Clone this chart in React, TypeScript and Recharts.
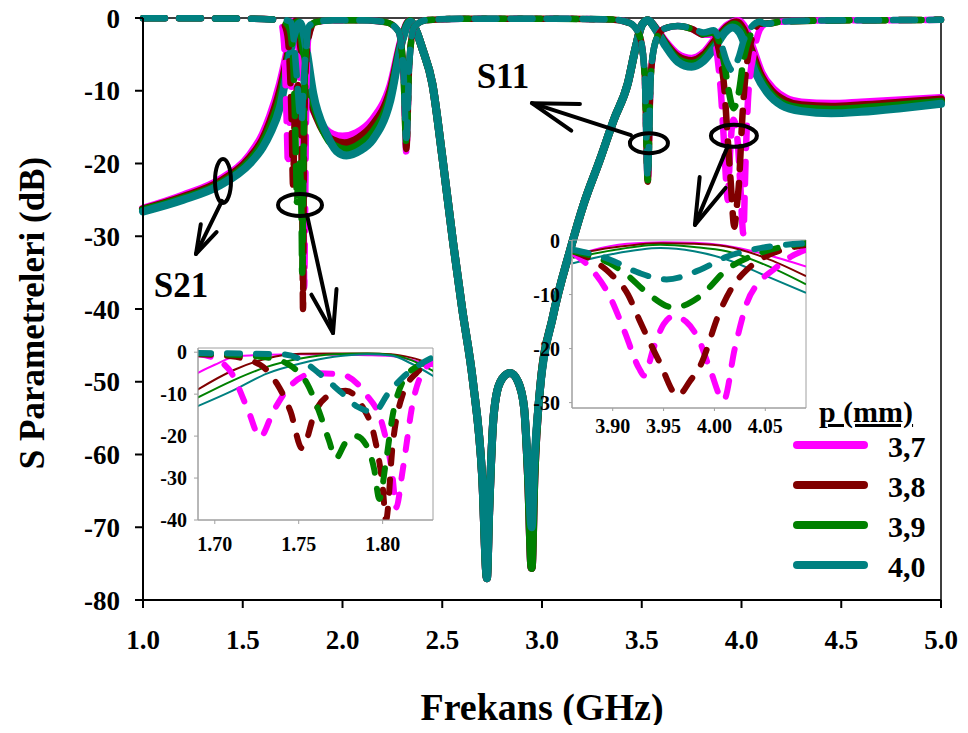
import React from 'react';
import { LineChart, Line, XAxis, YAxis, ReferenceArea, ReferenceDot } from 'recharts';

type Pt = [number, number];

const FONT = '"Liberation Serif", "Times New Roman", serif';
const COLORS = ['#FF00FF', '#800000', '#008000', '#008080'];
const P_LABELS = ['3,7', '3,8', '3,9', '4,0'];
const X_TICKS = [1.0, 1.5, 2.0, 2.5, 3.0, 3.5, 4.0, 4.5, 5.0];
const Y_TICKS = [-80, -70, -60, -50, -40, -30, -20, -10, 0];
const IN1_X_TICKS = [1.7, 1.75, 1.8];
const IN1_Y_TICKS = [-40, -30, -20, -10, 0];
const IN2_X_TICKS = [3.9, 3.95, 4.0, 4.05];
const IN2_Y_TICKS = [-30, -20, -10, 0];

// ---------- S21 (solid) main ----------
const s21L_37: Pt[] = [[1.0,-26.2],[1.2,-24.4],[1.386,-22.2],[1.536,-18.8],[1.6,-16],[1.637,-13.5],[1.687,-9],[1.72,-5],[1.74,-2.2],[1.752,-0.5],[1.765,-1.2],[1.785,-4.5],[1.82,-9.8],[1.88,-14],[1.95,-16],[2.0,-16.3],[2.07,-15.8],[2.15,-14],[2.24,-9.3],[2.3,-2.5],[2.335,-0.4]];
const s21L_38: Pt[] = [[1.0,-26.3],[1.2,-24.6],[1.386,-22.5],[1.536,-19.2],[1.6,-16.7],[1.637,-14.3],[1.687,-10],[1.72,-5.9],[1.745,-2.3],[1.765,-0.5],[1.778,-1.2],[1.795,-4.5],[1.83,-10],[1.89,-14.8],[1.95,-16.8],[2.01,-17.2],[2.08,-16.5],[2.15,-14.8],[2.24,-10],[2.3,-2.7],[2.337,-0.4]];
const s21L_39: Pt[] = [[1.0,-26.4],[1.2,-24.8],[1.386,-22.8],[1.536,-19.6],[1.6,-17.2],[1.637,-15],[1.687,-11],[1.72,-6.7],[1.75,-2.5],[1.775,-0.6],[1.788,-1.3],[1.805,-4.5],[1.84,-10],[1.9,-15.2],[1.96,-17.6],[2.02,-18.1],[2.09,-17.3],[2.15,-15.8],[2.24,-10.7],[2.3,-2.9],[2.338,-0.4]];
const s21L_40: Pt[] = [[1.0,-26.6],[1.2,-25],[1.386,-23],[1.536,-20],[1.6,-17.8],[1.637,-15.9],[1.687,-12.2],[1.72,-7.6],[1.747,-3.5],[1.787,-0.7],[1.8,-1.5],[1.82,-4.4],[1.853,-10.3],[1.92,-15.9],[1.97,-18.3],[2.02,-18.9],[2.09,-18.2],[2.15,-16.8],[2.24,-11.3],[2.3,-3],[2.34,-0.5]];

const s21Stop: Pt[] = [[2.37,-1.8],[2.4,-4.2],[2.45,-9],[2.5,-19],[2.555,-31],[2.6,-40],[2.654,-50],[2.7,-63],[2.724,-77],[2.735,-68],[2.754,-56],[2.77,-52],[2.8,-49.6],[2.84,-48.8],[2.88,-50],[2.91,-53.5],[2.93,-63],[2.948,-75.6],[2.962,-63],[2.99,-51],[3.055,-41],[3.14,-32],[3.21,-25.5],[3.29,-19.5],[3.36,-14],[3.43,-9],[3.47,-4],[3.5,-1]];
const s21StopTeal: Pt[] = [[2.37,-1.8],[2.4,-4.2],[2.45,-9],[2.5,-19],[2.555,-31],[2.6,-40],[2.654,-50],[2.7,-63],[2.724,-77],[2.735,-68],[2.754,-56],[2.77,-52],[2.8,-49.6],[2.84,-48.8],[2.88,-50],[2.91,-53.5],[2.93,-62],[2.948,-70],[2.962,-61],[2.99,-51],[3.055,-41],[3.14,-32],[3.21,-25.5],[3.29,-19.5],[3.36,-14],[3.43,-9],[3.47,-4],[3.5,-1]];

const s21R_37: Pt[] = [[3.53,-0.3],[3.57,-1.4],[3.62,-3.3],[3.68,-5],[3.75,-5.6],[3.81,-4.8],[3.87,-2.8],[3.93,-1],[3.985,-0.4],[4.02,-1.5],[4.06,-4.5],[4.1,-7.5],[4.16,-9.8],[4.22,-11],[4.3,-11.6],[4.45,-11.8],[4.6,-11.6],[4.8,-11.3],[5.0,-11]];
const s21R_38: Pt[] = [[3.53,-0.3],[3.57,-1.5],[3.62,-3.5],[3.68,-5.3],[3.75,-5.9],[3.81,-5.1],[3.87,-3.1],[3.93,-1.2],[3.975,-0.6],[4.01,-1.6],[4.05,-4.5],[4.09,-7.5],[4.15,-10],[4.22,-11.4],[4.3,-12],[4.45,-12.2],[4.6,-12],[4.8,-11.6],[5.0,-11.2]];
const s21R_39: Pt[] = [[3.53,-0.3],[3.57,-1.5],[3.62,-3.7],[3.68,-5.7],[3.75,-6.3],[3.81,-5.5],[3.87,-3.5],[3.93,-1.5],[3.965,-0.9],[4.0,-1.8],[4.04,-4.5],[4.08,-7.5],[4.14,-10.2],[4.21,-11.8],[4.3,-12.4],[4.45,-12.6],[4.6,-12.4],[4.8,-12],[5.0,-11.5]];
const s21R_40: Pt[] = [[3.53,-0.3],[3.57,-1.6],[3.62,-3.9],[3.68,-6],[3.75,-6.7],[3.81,-5.9],[3.87,-3.9],[3.92,-1.9],[3.955,-1.3],[3.99,-2],[4.03,-4.6],[4.07,-7.5],[4.13,-10.3],[4.2,-12],[4.3,-12.8],[4.45,-13.1],[4.6,-12.9],[4.8,-12.4],[5.0,-11.8]];

// ---------- S11 (dashed) main ----------
const s11Pre: Pt[] = [[1.0,-0.05],[1.3,-0.05],[1.55,-0.1],[1.65,-0.2]];
// band 1 (also shown in inset 1)
const b1d_37: Pt[] = [[1.69,-0.5],[1.7,-1.5],[1.71,-5],[1.72,-14],[1.727,-20.2],[1.735,-14],[1.745,-8],[1.76,-5],[1.775,-5.3],[1.79,-10],[1.8,-17.5],[1.806,-30],[1.808,-37],[1.812,-28],[1.818,-12],[1.825,-4],[1.83,-2.5]];
const b1d_38: Pt[] = [[1.69,-0.5],[1.71,-1],[1.727,-3],[1.737,-7.5],[1.745,-14],[1.752,-22.9],[1.76,-14],[1.768,-10.3],[1.778,-9.2],[1.788,-13],[1.795,-20],[1.8,-32],[1.802,-40],[1.806,-22],[1.812,-10],[1.82,-5],[1.83,-2.7]];
const b1d_39: Pt[] = [[1.69,-0.3],[1.73,-1.2],[1.745,-3.2],[1.755,-7.5],[1.762,-14],[1.768,-21],[1.772,-25.3],[1.778,-21.5],[1.784,-20],[1.79,-22],[1.795,-28],[1.798,-35],[1.802,-26],[1.806,-15],[1.812,-7],[1.82,-3.5],[1.83,-2]];
const b1d_40: Pt[] = [[1.69,-0.2],[1.74,-0.5],[1.75,-1.5],[1.762,-5],[1.775,-9.5],[1.785,-13],[1.795,-14.2],[1.803,-10],[1.812,-6],[1.82,-3.5],[1.83,-1.2]];
// band 1 solid (inset 1)
const b1s_37: Pt[] = [[1.689,-5.1],[1.7,-3],[1.711,-1.2],[1.731,-0.6],[1.751,-0.5],[1.771,-0.6],[1.791,-0.7],[1.805,-0.9],[1.817,-1.8],[1.831,-3.5]];
const b1s_38: Pt[] = [[1.689,-9.1],[1.711,-4.3],[1.731,-1.5],[1.751,-0.4],[1.771,-0.3],[1.791,-0.3],[1.805,-0.5],[1.817,-1.3],[1.831,-3.1]];
const b1s_39: Pt[] = [[1.689,-11],[1.711,-6.7],[1.731,-3.5],[1.751,-1.5],[1.771,-0.5],[1.791,-0.3],[1.805,-0.6],[1.817,-1.9],[1.831,-4.7]];
const b1s_40: Pt[] = [[1.689,-13],[1.711,-9.1],[1.731,-5.1],[1.751,-2.7],[1.771,-1.1],[1.791,-0.5],[1.805,-0.8],[1.817,-2.7],[1.831,-5.9]];

const mid_37: Pt[] = [[1.86,-0.6],[1.95,-0.3],[2.1,-0.3],[2.22,-0.6],[2.28,-1.8],[2.305,-7],[2.32,-18.5],[2.335,-6],[2.36,-1.2],[2.42,-0.3],[2.6,-0.1],[3.0,-0.1],[3.35,-0.2],[3.44,-0.7],[3.49,-2.5],[3.515,-8],[3.53,-22.7],[3.545,-8],[3.57,-3.2],[3.61,-1.5],[3.68,-1.1],[3.75,-1.5],[3.81,-2.3]];
const mid_38: Pt[] = [[1.86,-0.6],[1.95,-0.3],[2.1,-0.3],[2.22,-0.6],[2.28,-1.8],[2.305,-7],[2.32,-18],[2.335,-6],[2.36,-1.2],[2.42,-0.3],[2.6,-0.1],[3.0,-0.1],[3.35,-0.2],[3.44,-0.7],[3.49,-2.5],[3.515,-8],[3.53,-22.5],[3.545,-8],[3.57,-3.2],[3.61,-1.5],[3.68,-1.1],[3.75,-1.5],[3.81,-2.3]];
const mid_39: Pt[] = [[1.86,-0.6],[1.95,-0.3],[2.1,-0.3],[2.22,-0.6],[2.28,-1.8],[2.305,-7],[2.32,-17.5],[2.335,-6],[2.36,-1.2],[2.42,-0.3],[2.6,-0.1],[3.0,-0.1],[3.35,-0.2],[3.44,-0.7],[3.49,-2.5],[3.515,-8],[3.53,-22.3],[3.545,-8],[3.57,-3.2],[3.61,-1.5],[3.68,-1.1],[3.75,-1.5],[3.81,-2.2]];
const mid_40: Pt[] = [[1.86,-0.6],[1.95,-0.3],[2.1,-0.3],[2.22,-0.6],[2.28,-1.8],[2.305,-7],[2.32,-16.5],[2.335,-6],[2.36,-1.2],[2.42,-0.3],[2.6,-0.1],[3.0,-0.1],[3.35,-0.2],[3.44,-0.7],[3.49,-2.5],[3.515,-8],[3.53,-22],[3.545,-8],[3.57,-3.2],[3.61,-1.5],[3.68,-1.1],[3.75,-1.4],[3.81,-2]];

// band 2 (also shown in inset 2)
const b2d_37: Pt[] = [[3.861,-2.3],[3.88,-5.5],[3.897,-10.3],[3.912,-17],[3.926,-23.7],[3.931,-25],[3.94,-20],[3.95,-15.5],[3.96,-14],[3.972,-15],[3.985,-18.5],[3.996,-24],[4.009,-29.6],[4.02,-20],[4.032,-11.5],[4.045,-7.5],[4.058,-5.4],[4.075,-3],[4.09,-1.7]];
const b2d_38: Pt[] = [[3.861,-2],[3.88,-3.6],[3.897,-6],[3.915,-10],[3.926,-14.6],[3.946,-22.5],[3.964,-28.7],[3.976,-26],[3.986,-23.2],[4.005,-13.3],[4.018,-8.5],[4.032,-5.4],[4.045,-3.5],[4.058,-2.3],[4.09,-0.8]];
const b2d_39: Pt[] = [[3.861,-2],[3.897,-4.2],[3.915,-6.5],[3.932,-9.4],[3.96,-12.4],[3.986,-10.3],[4.012,-5.4],[4.045,-2.3],[4.09,-0.5]];
const b2d_40: Pt[] = [[3.861,-1.7],[3.897,-3.5],[3.926,-6],[3.953,-7.2],[3.986,-5.4],[4.012,-3],[4.045,-1.4],[4.09,-0.5]];
const b2s_37: Pt[] = [[3.861,-3],[3.88,-1.8],[3.914,-0.6],[3.95,-0.3],[3.98,-0.4],[4.01,-0.9],[4.045,-2.3],[4.09,-4.8]];
const b2s_38: Pt[] = [[3.861,-2.6],[3.9,-1.3],[3.947,-0.5],[3.98,-0.6],[4.012,-1.1],[4.05,-3.2],[4.09,-6.6]];
const b2s_39: Pt[] = [[3.861,-3.2],[3.9,-1.8],[3.947,-0.8],[3.98,-1.2],[4.012,-2],[4.05,-4.5],[4.09,-8.1]];
const b2s_40: Pt[] = [[3.861,-4.2],[3.9,-2.5],[3.947,-1.4],[3.98,-2],[4.012,-3.5],[4.05,-6.5],[4.09,-9.7]];

const s11Tail: Pt[] = [[4.12,-0.8],[4.2,-0.5],[4.4,-0.35],[4.7,-0.3],[5.0,-0.25]];

const pts = (...parts: Pt[][]) => parts.flat().map(([f, v]) => ({ f, v }));

const MAIN_S21 = [
  pts(s21L_37, s21Stop, s21R_37),
  pts(s21L_38, s21Stop, s21R_38),
  pts(s21L_39, s21Stop, s21R_39),
  pts(s21L_40, s21StopTeal, s21R_40),
];
const MAIN_S11 = [
  pts(s11Pre, b1d_37, mid_37, b2d_37, s11Tail),
  pts(s11Pre, b1d_38, mid_38, b2d_38, s11Tail),
  pts(s11Pre, b1d_39, mid_39, b2d_39, s11Tail),
  pts(s11Pre, b1d_40, mid_40, b2d_40, s11Tail),
];
const IN1_SOLID = [b1s_37, b1s_38, b1s_39, b1s_40].map((a) => pts(a));
const IN1_DASH = [b1d_37, b1d_38, b1d_39, b1d_40].map((a) => pts(a));
const IN2_SOLID = [b2s_37, b2s_38, b2s_39, b2s_40].map((a) => pts(a));
const IN2_DASH = [b2d_37, b2d_38, b2d_39, b2d_40].map((a) => pts(a));

// annotations: ellipse anchored in data coords, arrow/text as pixel offsets
type Ann = { x: number; y: number; rx: number; ry: number; from: [number, number]; tip: [number, number]; head: number; text?: string; tx?: number; ty?: number };
const ANNOTATIONS: Ann[] = [
  { x: 1.401, y: -22.4, rx: 8, ry: 22, from: [-1, 20], tip: [-27, 73], head: 30, text: 'S21', tx: -42, ty: 116 },
  { x: 1.787, y: -25.7, rx: 22, ry: 11, from: [7, 10], tip: [33, 128], head: 44 },
  { x: 3.536, y: -17.2, rx: 19, ry: 10, from: [-18, -8], tip: [-117, -40], head: 48, text: 'S11', tx: -146, ty: -55 },
  { x: 3.962, y: -16.2, rx: 23, ry: 11, from: [-6, 10], tip: [-39, 89], head: 48 },
];

const AnnShape = (props: any) => {
  const { cx, cy, ann } = props as { cx: number; cy: number; ann: Ann };
  if (cx == null || cy == null) return null;
  const x1 = cx + ann.from[0], y1 = cy + ann.from[1];
  const x2 = cx + ann.tip[0], y2 = cy + ann.tip[1];
  const th = Math.atan2(y1 - y2, x1 - x2);
  const a = (17 * Math.PI) / 180;
  const w1 = [x2 + ann.head * Math.cos(th + a), y2 + ann.head * Math.sin(th + a)];
  const w2 = [x2 + ann.head * Math.cos(th - a), y2 + ann.head * Math.sin(th - a)];
  return (
    <g>
      <ellipse cx={cx} cy={cy} rx={ann.rx} ry={ann.ry} fill="none" stroke="#000" strokeWidth={4} />
      <line x1={x1} y1={y1} x2={x2} y2={y2} stroke="#000" strokeWidth={4} strokeLinecap="round" />
      <polyline points={`${w1[0]},${w1[1]} ${x2},${y2} ${w2[0]},${w2[1]}`} fill="none" stroke="#000" strokeWidth={4} strokeLinecap="round" strokeLinejoin="round" />
      {ann.text && (
        <text x={cx + (ann.tx || 0)} y={cy + (ann.ty || 0)} textAnchor="middle" fontFamily={FONT} fontWeight="bold" fontSize={35} fill="#000">
          {ann.text}
        </text>
      )}
    </g>
  );
};

const mainTick = { fontFamily: FONT, fontSize: 27, fontWeight: 'bold', fill: '#000' } as any;
const insetTick = { fontFamily: FONT, fontSize: 20, fontWeight: 'bold', fill: '#000' } as any;

type InsetProps = {
  left: number; top: number; pw: number; ph: number;
  xDomain: [number, number]; yDomain: [number, number];
  xTicks: number[]; yTicks: number[];
  solid: { f: number; v: number }[][]; dashed: { f: number; v: number }[][];
  xTickMargin: number; yTickMargin: number; tickSize: number; dash: string;
};

const Inset = (p: InsetProps) => {
  const yW = 50, mt = 16, mr = 8, xH = 40;
  return (
    <div style={{ position: 'absolute', left: p.left - yW, top: p.top - mt }}>
      <LineChart width={yW + p.pw + mr} height={mt + p.ph + xH} margin={{ top: mt, right: mr, bottom: 0, left: 0 }}>
        <XAxis type="number" dataKey="f" domain={p.xDomain} ticks={p.xTicks} allowDataOverflow height={xH}
          tickFormatter={(v: number) => v.toFixed(2)} tick={insetTick} tickSize={p.tickSize} tickMargin={p.xTickMargin}
          axisLine={{ stroke: '#A0A0A0', strokeWidth: 1 }} tickLine={{ stroke: '#A0A0A0' }} interval={0} />
        <YAxis type="number" domain={p.yDomain} ticks={p.yTicks} allowDataOverflow width={yW}
          tick={insetTick} tickSize={p.tickSize} tickMargin={p.yTickMargin}
          axisLine={{ stroke: '#A0A0A0', strokeWidth: 1 }} tickLine={{ stroke: '#A0A0A0' }} interval={0} />
        <ReferenceArea x1={p.xDomain[0]} x2={p.xDomain[1]} y1={p.yDomain[0]} y2={p.yDomain[1]} fill="#fff" fillOpacity={0} stroke="#A0A0A0" strokeWidth={1} />
        {p.solid.map((d, i) => (
          <Line key={'s' + i} data={d} dataKey="v" type="monotone" stroke={COLORS[i]} strokeWidth={2} dot={false} isAnimationActive={false} />
        ))}
        {p.dashed.map((d, i) => (
          <Line key={'d' + i} data={d} dataKey="v" type="monotone" stroke={COLORS[i]} strokeWidth={6} strokeDasharray={p.dash} strokeLinecap="round" dot={false} isAnimationActive={false} />
        ))}
      </LineChart>
    </div>
  );
};

export default function App() {
  return (
    <div style={{ position: 'relative', width: 952, height: 717, background: '#fff', fontFamily: FONT }}>
      <div style={{ position: 'absolute', left: 0, top: -12 }}>
        <LineChart width={952} height={729} margin={{ top: 22, right: 19, bottom: 0, left: 0 }}>
          <XAxis type="number" dataKey="f" domain={[1, 5]} ticks={X_TICKS} height={125}
            tickFormatter={(v: number) => v.toFixed(1)} tick={mainTick} tickSize={8} tickMargin={22}
            axisLine={{ stroke: '#000', strokeWidth: 2 }} tickLine={{ stroke: '#000', strokeWidth: 2 }} interval={0} />
          <YAxis type="number" domain={[-80, 0]} ticks={Y_TICKS} width={135}
            tick={mainTick} tickSize={8} tickMargin={15}
            axisLine={{ stroke: '#000', strokeWidth: 2 }} tickLine={{ stroke: '#000', strokeWidth: 2 }} interval={0} />
          <ReferenceArea x1={1} x2={5} y1={-80} y2={0} fill="#fff" fillOpacity={0} stroke="#000" strokeWidth={1.5} />
          {MAIN_S21.map((d, i) => (
            <Line key={'s21' + i} data={d} dataKey="v" type="monotone" stroke={COLORS[i]} strokeWidth={8} strokeLinecap="round" strokeLinejoin="round" dot={false} isAnimationActive={false} />
          ))}
          {MAIN_S11.map((d, i) => (
            <Line key={'s11' + i} data={d} dataKey="v" type="monotone" stroke={COLORS[i]} strokeWidth={6.5} strokeDasharray="22 14" strokeLinecap="round" strokeLinejoin="round" dot={false} isAnimationActive={false} />
          ))}
          {ANNOTATIONS.map((a, i) => (
            <ReferenceDot key={'a' + i} x={a.x} y={a.y} r={1} shape={(props: any) => <AnnShape {...props} ann={a} />} />
          ))}
        </LineChart>
      </div>

      <Inset left={190} top={340} pw={235} ph={172} xDomain={[1.69, 1.83]} yDomain={[-40, 1]}
        xTicks={IN1_X_TICKS} yTicks={IN1_Y_TICKS} solid={IN1_SOLID} dashed={IN1_DASH}
        xTickMargin={13} yTickMargin={7} tickSize={4} dash="13 16" />
      <Inset left={564} top={232} pw={234} ph={168} xDomain={[3.86, 4.09]} yDomain={[-31, 0.1]}
        xTicks={IN2_X_TICKS} yTicks={IN2_Y_TICKS} solid={IN2_SOLID} dashed={IN2_DASH}
        xTickMargin={8} yTickMargin={9} tickSize={3} dash="16 16" />

      <svg width={952} height={725} style={{ position: 'absolute', left: 0, top: 0, pointerEvents: 'none', overflow: 'visible' }}>
        <text x={36} y={305} transform="rotate(-90 36 305)" textAnchor="middle" fontFamily={FONT} fontWeight="bold" fontSize={35} fill="#000">
          S Parametreleri (dB)
        </text>
        <text x={534} y={712} textAnchor="middle" fontFamily={FONT} fontWeight="bold" fontSize={38} fill="#000">
          Frekans (GHz)
        </text>
        <text x={858} y={414} textAnchor="middle" fontFamily={FONT} fontWeight="bold" fontSize={30} fill="#000" style={{ textDecoration: 'underline' }}>
          p (mm)
        </text>
        {P_LABELS.map((lab, i) => (
          <g key={lab}>
            <line x1={789} x2={856} y1={437 + i * 40} y2={437 + i * 40} stroke={COLORS[i]} strokeWidth={8} strokeLinecap="round" />
            <text x={880} y={449 + i * 40} fontFamily={FONT} fontWeight="bold" fontSize={30} fill="#000">{lab}</text>
          </g>
        ))}
      </svg>
    </div>
  );
}
